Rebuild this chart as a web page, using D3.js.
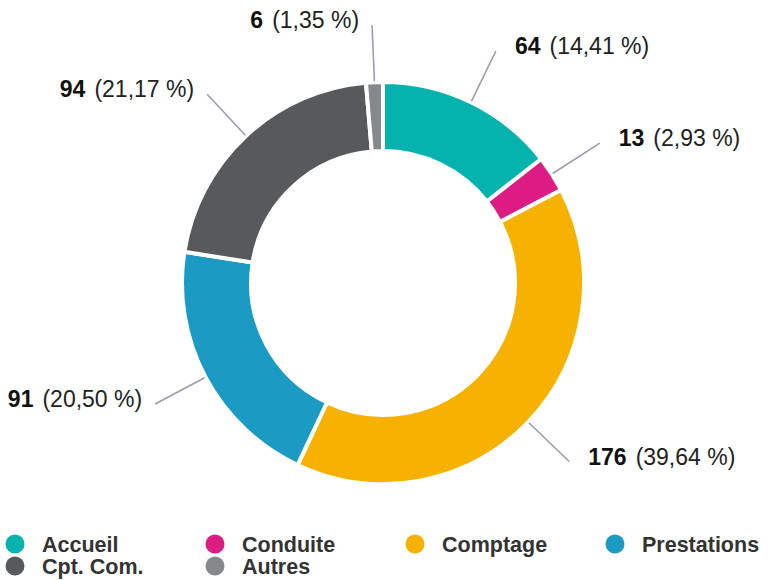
<!DOCTYPE html>
<html>
<head>
<meta charset="utf-8">
<script src="https://cdn.jsdelivr.net/npm/d3@7"></script>
<style>
  body { margin: 0; background: #fff; }
  svg { display: block; font-family: "Liberation Sans", Arial, Helvetica, sans-serif; }
</style>
</head>
<body>
<div id="chart"></div>
<script>
// data
var categories = ["Accueil", "Conduite", "Comptage", "Prestations", "Cpt. Com.", "Autres"];
var counts = [64, 13, 176, 91, 94, 6];
var colors = ["#04b2ae", "#dc1b83", "#f7b100", "#1b9bc4", "#58595b", "#87888b"];

var width = 768, height = 580;
var cx = 383, cy = 283;
var rOuter = 201, rInner = 132;

var svg = d3.select("#chart")
    .append("svg")
    .attr("width", width)
    .attr("height", height);

var total = d3.sum(counts);
var fmtPct = function(v) { return (v / total * 100).toFixed(2).replace(".", ","); };

var pie = d3.pie().sort(null).value(function(d) { return d; });
var arcs = pie(counts);

var arc = d3.arc().innerRadius(rInner).outerRadius(rOuter);

var g = svg.append("g")
    .attr("transform", "translate(" + cx + "," + cy + ")");

// donut slices (white stroke makes the gaps)
g.selectAll("path.slice")
    .data(arcs)
    .enter()
    .append("path")
    .attr("class", "slice")
    .attr("d", arc)
    .style("fill", function(d, i) { return colors[i]; })
    .style("stroke", "#fff")
    .style("stroke-width", 4);

// leader lines + labels
var pt = function(a, r) { return [Math.sin(a) * r, -Math.cos(a) * r]; };

arcs.forEach(function(d, i) {
    var mid = (d.startAngle + d.endAngle) / 2;
    var p1 = pt(mid, 202), p2 = pt(mid, 258);
    g.append("line")
        .attr("x1", p1[0]).attr("y1", p1[1])
        .attr("x2", p2[0]).attr("y2", p2[1])
        .style("stroke", "#9c9daa")
        .style("stroke-width", 1.6);

    var right = mid < Math.PI;
    var t = g.append("text")
        .attr("x", p2[0] + (right ? 19 : -13))
        .attr("y", p2[1] + 3)
        .attr("text-anchor", right ? "start" : "end")
        .style("font-size", "23px")
        .style("fill", "#111");
    t.append("tspan")
        .style("font-weight", "bold")
        .text(counts[i]);
    t.append("tspan")
        .attr("dx", 9)
        .style("fill", "#222")
        .text("(" + fmtPct(counts[i]) + " %)");
});

// legend
var legend = svg.append("g");
var item = legend.selectAll("g")
    .data(categories)
    .enter()
    .append("g")
    .attr("transform", function(d, i) {
        return "translate(" + (15 + (i % 4) * 200) + "," + (544 + Math.floor(i / 4) * 22) + ")";
    });
item.append("circle")
    .attr("r", 9.5)
    .style("fill", function(d, i) { return colors[i]; });
item.append("text")
    .attr("x", 27)
    .attr("y", 7.5)
    .style("font-size", "21.5px")
    .style("font-weight", "bold")
    .style("fill", "#333")
    .text(function(d) { return d; });
</script>
</body>
</html>
